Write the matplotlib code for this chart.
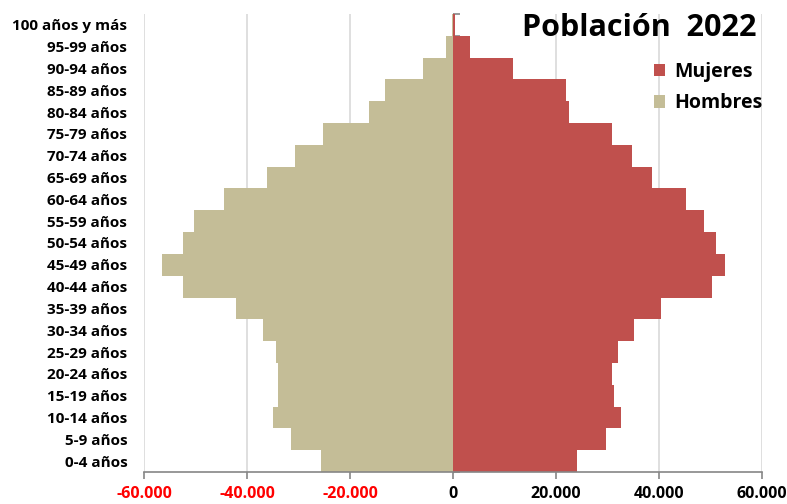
import matplotlib
matplotlib.use("Agg")
import matplotlib.pyplot as plt
import numpy as np
from matplotlib.ticker import FuncFormatter

categories = ["0-4 años", "5-9 años", "10-14 años", "15-19 años", "20-24 años",
              "25-29 años", "30-34 años", "35-39 años", "40-44 años", "45-49 años",
              "50-54 años", "55-59 años", "60-64 años", "65-69 años", "70-74 años",
              "75-79 años", "80-84 años", "85-89 años", "90-94 años", "95-99 años",
              "100 años y más"]
hombres = [-25600, -31500, -35000, -34000, -33900, -34300, -36800, -42100, -52500, -56500,
           -52500, -50200, -44400, -36200, -30600, -25200, -16300, -13300, -5900, -1400, -200]
mujeres = [24100, 29700, 32600, 31300, 30900, 32100, 35100, 40400, 50300, 52900,
           51000, 48700, 45200, 38600, 34800, 30900, 22600, 21900, 11700, 3300, 400]
xticks = [-60000, -40000, -20000, 0, 20000, 40000, 60000]

plt.rcParams['font.family'] = ['Open Sans', 'DejaVu Sans']

fig = plt.figure(figsize=(7.87, 5.04), dpi=100)
ax = fig.add_axes([144/787, 1-472/504, (762-144)/787, (472-14)/504])

y = np.arange(len(categories))
c_m = "#C0504D"
c_h = "#C4BD97"
ax.barh(y, mujeres, height=1.0, color=c_m, linewidth=0, label="Mujeres", zorder=2)
ax.barh(y, hombres, height=1.0, color=c_h, linewidth=0, label="Hombres", zorder=2)

ax.set_xlim(-60000, 60000)
ax.set_ylim(-0.5, len(categories) - 0.5)
ax.set_xticks(xticks)
ax.xaxis.set_major_formatter(FuncFormatter(lambda v, p: f"{int(v):,}".replace(",", ".")))
ax.grid(axis='x', color="#D9D9D9", linewidth=1.2, zorder=0)
ax.set_axisbelow(True)

ax.set_yticks(y)
ax.set_yticklabels(categories)
ax.tick_params(axis='y', length=0, pad=12, labelsize=11)
for lbl in ax.get_yticklabels():
    lbl.set_fontweight('bold')

ax.tick_params(axis='x', length=5, color="#868686", width=1.2, pad=5, labelsize=11.5)
for lbl, v in zip(ax.get_xticklabels(), xticks):
    lbl.set_fontweight('bold')
    lbl.set_color('#FF0000' if v < 0 else 'black')

for s in ['top', 'right', 'left']:
    ax.spines[s].set_visible(False)
ax.spines['bottom'].set_color("#868686")
ax.spines['bottom'].set_linewidth(1.2)

# central vertical axis with ticks at category boundaries
sec = ax.secondary_yaxis(0.5)
sec.set_yticks(np.arange(-0.5, len(categories), 1.0))
sec.set_yticklabels([])
sec.tick_params(axis='y', length=5, color="#868686", width=1.2, direction='out')
sec.spines['left'].set_color("#868686")
sec.spines['left'].set_linewidth(1.2)

fig.text(757/787, 1-13/504, "Población  2022", ha='right', va='top',
         fontsize=22, fontweight='bold', zorder=5)

leg = fig.legend(handles=ax.get_legend_handles_labels()[0], labels=["Mujeres", "Hombres"],
                 loc='upper right', bbox_to_anchor=(776/787, 1-48/504), frameon=False,
                 prop={'size': 14, 'weight': 'bold'}, handlelength=0.6, handleheight=0.6,
                 handletextpad=0.45, labelspacing=0.6, borderpad=0.2)

fig.savefig("out.png", dpi=100)
